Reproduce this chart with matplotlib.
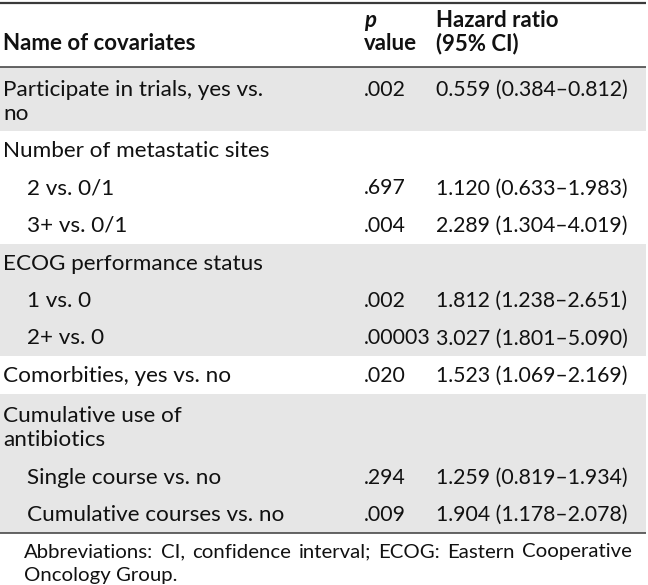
import matplotlib
matplotlib.use("Agg")
import matplotlib.pyplot as plt
from matplotlib.patches import Rectangle

# table content
header_name = "Name of covariates"
header_p = ["p", "value"]
header_hr = ["Hazard ratio", "(95% CI)"]

labels = ["Participate in trials, yes vs.\nno", "Number of metastatic sites", "2 vs. 0/1",
          "3+ vs. 0/1", "ECOG performance status", "1 vs. 0", "2+ vs. 0",
          "Comorbities, yes vs. no", "Cumulative use of\nantibiotics",
          "Single course vs. no", "Cumulative courses vs. no"]
indent = [0, 0, 1, 1, 0, 1, 1, 0, 0, 1, 1]
pvals = [".002", "", ".697", ".004", "", ".002", ".00003", ".020", "", ".294", ".009"]
hrs = ["0.559 (0.384–0.812)", "", "1.120 (0.633–1.983)", "2.289 (1.304–4.019)", "",
       "1.812 (1.238–2.651)", "3.027 (1.801–5.090)", "1.523 (1.069–2.169)", "",
       "1.259 (0.819–1.934)", "1.904 (1.178–2.078)"]
group = [0, 1, 1, 1, 2, 2, 2, 3, 4, 4, 4]
footnote = ["Abbreviations: CI, confidence interval; ECOG: Eastern Cooperative",
            "Oncology Group."]

W, H = 648, 585
FONT = "Lato"
FS = 16.2
FS_NUM = 15.3
FS_HEAD = 16.0
FS_FOOT = 14.7
GREY = "#e6e6e6"
RULE = "#3a3a3a"
TXT = "#111111"

fig = plt.figure(figsize=(W / 100, H / 100), dpi=100)
ax = fig.add_axes([0, 0, 1, 1])
ax.set_xlim(0, W)
ax.set_ylim(H, 0)
ax.axis("off")

x_name, x_ind, x_p, x_hr = 3, 27, 364, 436
right = 646
cap = 7.5  # half cap height in px


def txt(x, y, s, size=FS, **kw):
    return ax.text(x, y, s, fontsize=size, family=FONT, color=TXT, va="baseline", **kw)


# header
txt(x_name, 50, header_name, size=FS_HEAD, fontweight="bold")
txt(x_p, 27, header_p[0], size=FS_HEAD, fontweight="bold", style="italic")
txt(x_p, 50, header_p[1], size=FS_HEAD, fontweight="bold")
txt(x_hr, 27, header_hr[0], size=FS_HEAD, fontweight="bold")
txt(x_hr, 50, header_hr[1], size=FS_HEAD, fontweight="bold")

# body rows
y = 67
tops, bottoms = {}, {}
for i, lab in enumerate(labels):
    lines = lab.split("\n")
    h = 37.5 if len(lines) == 1 else 64
    c0 = y + (18.5 if len(lines) == 1 else 21.5)
    for j, ln in enumerate(lines):
        txt(x_ind if indent[i] else x_name, c0 + 24 * j + cap, ln)
    txt(x_p, c0 + cap, pvals[i], size=FS_NUM)
    txt(x_hr, c0 + cap, hrs[i], size=FS_NUM)
    g = group[i]
    tops.setdefault(g, y)
    y += h
    bottoms[g] = y

for g in tops:
    if g % 2 == 0:
        ax.add_patch(Rectangle((0, tops[g]), right, bottoms[g] - tops[g], color=GREY, lw=0, zorder=0))

ax.plot([0, right], [3, 3], color=RULE, lw=1.6, solid_capstyle="butt")
ax.plot([0, right], [67, 67], color=RULE, lw=1.1, solid_capstyle="butt")
ax.plot([0, right], [y, y], color=RULE, lw=1.1, solid_capstyle="butt")

# footnote, first line justified between x0 and x1
fig.canvas.draw()
r = fig.canvas.get_renderer()
words = footnote[0].split(" ")
tmp = [txt(0, 0, w, size=FS_FOOT) for w in words]
widths = [t.get_window_extent(r).width for t in tmp]
for t in tmp:
    t.remove()
x0, x1 = 24, 632
gap = max((x1 - x0 - sum(widths)) / (len(words) - 1), 4)
xx = x0
for w, wd in zip(words, widths):
    txt(xx, 550 + cap, w, size=FS_FOOT)
    xx += wd + gap
txt(x0, 573 + cap, footnote[1], size=FS_FOOT)

fig.savefig("out.png", dpi=100)
